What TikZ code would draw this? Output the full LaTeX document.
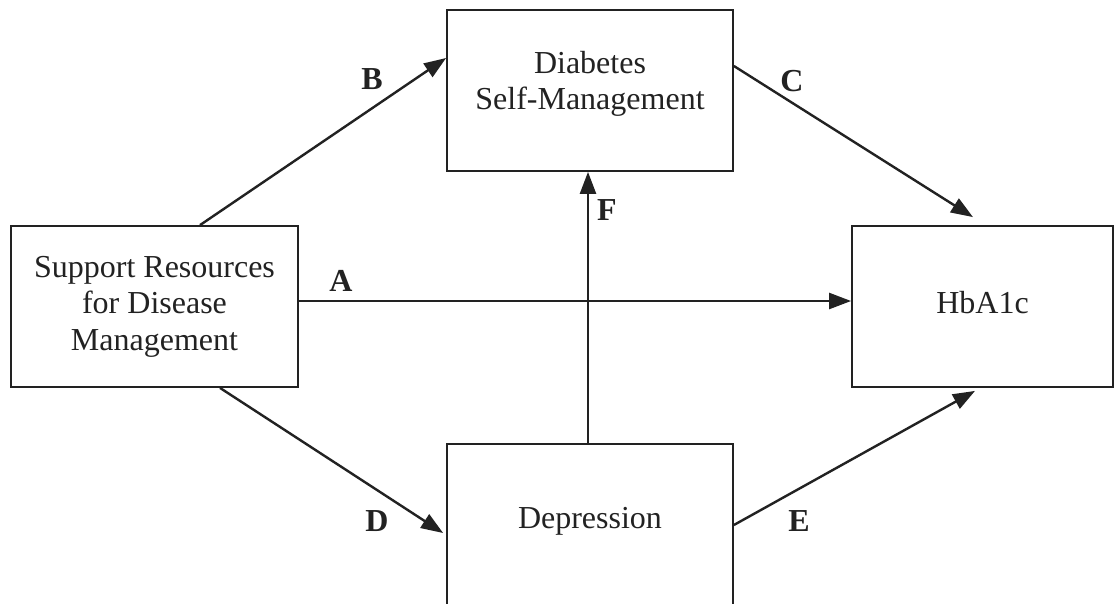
\documentclass[tikz,border=0pt]{standalone}
\usepackage{fontspec}
\setmainfont{Liberation Serif}
\usetikzlibrary{arrows.meta}
\definecolor{ink}{HTML}{222222}
\begin{document}
\begin{tikzpicture}[x=1pt,y=-1pt,
  box/.style={draw=ink, line width=1.8pt, align=center, text=ink,
    font=\fontsize{32}{36.5}\selectfont, inner sep=0pt},
  conn/.style={line width=2.4pt, draw=ink, -{Triangle[length=22pt,width=16pt]}},
  lbl/.style={font=\fontsize{32}{36}\selectfont\bfseries, text=ink, inner sep=0pt}]
\useasboundingbox (0,0) rectangle (1114,603);
\clip (0,0) rectangle (1114,603);
\fill[white] (0,0) rectangle (1114,603);
\node[box, minimum width=287pt, minimum height=161pt] (sr) at (154.5,306.5)
  {Support Resources\\for Disease\\Management};
\node[box, minimum width=286pt, minimum height=161pt, text depth=20pt] (tb) at (590,90.5)
  {Diabetes\\Self-Management};
\node[box, minimum width=261pt, minimum height=161pt, text depth=8pt] (hb) at (982.5,306.5)
  {HbA1c};
\node[box, minimum width=286pt, minimum height=200pt, anchor=north] (dep) at (590,443) {};
\node[box, draw=none] (deptext) at (590,521) {Depression};
% connectors
\draw[conn] ([xshift=45.5pt]sr.north) -- ([yshift=32.5pt]tb.west);
\draw[conn] ([yshift=24.5pt]tb.east) -- ([xshift=-9.5pt,yshift=8pt]hb.north);
\draw[conn] ([yshift=5.5pt]sr.east) -- ([yshift=5.5pt]hb.west);
\draw[conn] ([xshift=65.5pt]sr.south) -- ([xshift=-3pt,yshift=-90pt]dep.north west);
\draw[conn] ([yshift=-82pt]dep.north east) -- ([xshift=-7.5pt,yshift=-3pt]hb.south);
\draw[conn] ([xshift=-2pt]dep.north) -- ([xshift=-2pt]tb.south);
% labels
\node[lbl] (lB) at (372,79) {B};
\node[lbl] (lC) at (792,81) {C};
\node[lbl] (lA) at (341,281) {A};
\node[lbl] (lF) at (607,210) {F};
\node[lbl] (lD) at (377,521) {D};
\node[lbl] (lE) at (799,521) {E};
\end{tikzpicture}
\end{document}
